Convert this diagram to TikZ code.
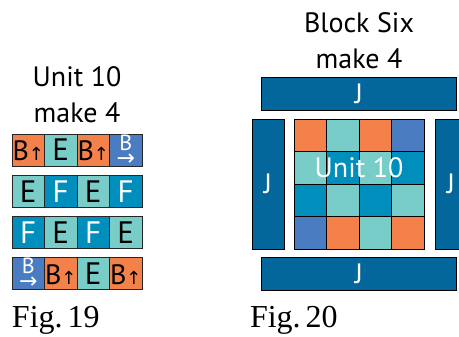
\documentclass[tikz,border=0pt]{standalone}
\usepackage{fontspec}
\setmainfont{PT Sans}
\newfontfamily\figfont{Liberation Serif}
\newfontfamily\arrfont{DejaVu Sans}
\usetikzlibrary{positioning}

\definecolor{orangeB}{HTML}{F4804A}
\definecolor{tealE}{HTML}{79CDC9}
\definecolor{blueF}{HTML}{008EBC}
\definecolor{blueB}{HTML}{4A7CC1}
\definecolor{blueJ}{HTML}{03679B}

% B con flecha arriba / B con flecha abajo
\newcommand\bupmark{\makebox[30pt]{\fontsize{28}{28}\selectfont B{\arrfont\fontsize{18}{18}\selectfont ↑}}}
\newcommand\brightmark{\makebox[0pt]{\raisebox{10pt}{\fontsize{22}{22}\selectfont B}}%
  \makebox[0pt]{\raisebox{-5pt}{\arrfont\fontsize{22}{22}\selectfont →}}}

\begin{document}
\begin{tikzpicture}[x=1pt, y=-1pt,
  every node/.style={inner sep=0pt, outer sep=0pt},
  cell/.style={draw=black!85, line width=0.9pt, minimum width=32.5pt, minimum height=32pt,
    text height=22pt, text depth=0pt, font=\fontsize{31}{31}\selectfont},
  bupcell/.style={cell, fill=orangeB},
  bcell/.style={cell, fill=blueB, text=white},
  ecell/.style={cell, fill=tealE},
  fcell/.style={cell, fill=blueF, text=white},
  sq/.style={draw=black, line width=0.7pt, minimum size=32.5pt},
  jbar/.style={draw=black, line width=0.7pt, fill=blueJ, text=white, font=\fontsize{28}{28}\selectfont},
  title/.style={align=center, font=\fontsize{28}{36}\selectfont},
  figlab/.style={anchor=base west, font=\figfont\fontsize{32}{32}\selectfont}]

\useasboundingbox (0,0) rectangle (459,337);

% Fig. 19: las cuatro filas
\foreach \r/\y/\cols in {1/150/{bupcell/\bupmark,ecell/E,bupcell/\bupmark,bcell/\brightmark},
    2/191.5/{ecell/E,fcell/F,ecell/E,fcell/F},
    3/232.5/{fcell/F,ecell/E,fcell/F,ecell/E},
    4/273/{bcell/\brightmark,bupcell/\bupmark,ecell/E,bupcell/\bupmark}}
  \foreach \s/\txt [count=\k from 0] in \cols
    \node[\s] (u\r\k) at (28.25+32.5*\k, \y) {\txt};

\node[title, above=11pt of u11.north east] (t19) {Unit 10\\make 4};

% Fig. 20: el bloque
\foreach \r/\cols in {0/{orangeB,tealE,orangeB,blueB},1/{tealE,blueF,tealE,blueF},
    2/{blueF,tealE,blueF,tealE},3/{blueB,orangeB,tealE,orangeB}}
  \foreach \c [count=\k from 0] in \cols
    \node[sq, fill=\c] (g\r\k) at (310.25+32.5*\k, 135.25+32.5*\r) {};

\node[text=white, font=\fontsize{28}{28}\selectfont] (unit) at (g11.east) {Unit 10};

% Franjas J
\node[jbar, minimum width=195pt, minimum height=33pt, above=9pt of g01.north east] (jtop) {J};
\node[jbar, minimum width=195pt, minimum height=33pt, below=8pt of g31.south east] (jbot) {J};
\node[jbar, minimum width=32pt, minimum height=130pt, left=10pt of g10.south west] (jleft) {J};
\node[jbar, minimum width=32pt, minimum height=130pt, right=11pt of g13.south east] (jright) {J};

\node[title, above=8pt of jtop] (t20) {Block Six\\make 4};

% Etiquetas
\node[figlab] (f19) at (12,328) {Fig.\kern5pt19};
\node[figlab] (f20) at (250,328) {Fig.\kern5pt20};

\end{tikzpicture}
\end{document}
